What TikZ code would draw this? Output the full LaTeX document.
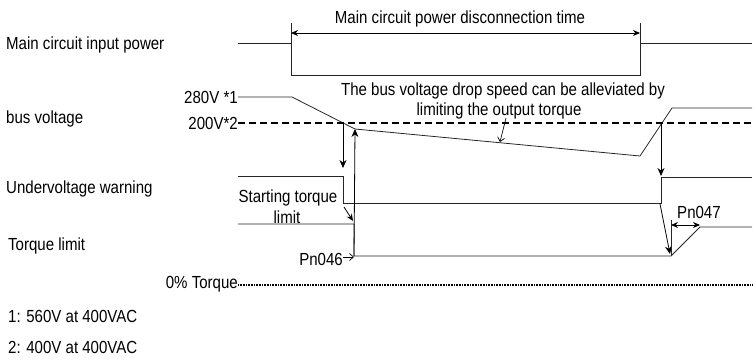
\documentclass[tikz,border=0pt]{standalone}
\usepackage{fontspec}
\setmainfont{Liberation Sans}[FakeStretch=0.86]
\usetikzlibrary{arrows.meta}

\begin{document}
\begin{tikzpicture}[
    x=1pt,
    y=-1pt,
    signal/.style={draw=black!85, line width=0.8pt},
    threshold/.style={draw=black, line width=1.6pt, dash pattern=on 7pt off 4pt},
    zero level/.style={draw=black, line width=1.8pt, dash pattern=on 1pt off 0.6pt},
    event arrow/.style={draw=black, line width=0.8pt, -{Stealth[length=8pt,width=7pt]}},
    span arrow/.style={draw=black, line width=0.8pt, {Stealth[length=7pt,width=6pt]}-{Stealth[length=7pt,width=6pt]}},
    pointer/.style={draw=black, line width=0.7pt, -{Straight Barb[length=4pt,width=7pt]}},
    row label/.style={font=\fontsize{17.5}{20}\selectfont, anchor=base west, inner sep=0pt},
    note label/.style={font=\fontsize{17.5}{20}\selectfont, anchor=base, inner sep=0pt}
]

\useasboundingbox (0,0) rectangle (754,362);

% Row labels on the left.
\node[row label] (lblPower) at (6,49) {Main circuit input power};
\node[row label] (lblBus) at (6,123) {bus voltage};
\node[row label] (lblUv) at (6,193) {Undervoltage warning};
\node[row label] (lblTorque) at (8,250) {Torque limit};
\node[row label, anchor=base east] (lblZero) at (238,288) {0\% Torque};
\node[row label] (foot1) at (8,322) {1: 560V at 400VAC};
\node[row label] (foot2) at (8,353) {2: 400V at 400VAC};

% Main circuit input power.
\coordinate (PwrIn) at (238,43);
\coordinate (OffTop) at (291,23);
\coordinate (OffBot) at (291,75);
\coordinate (OnTop) at (640,23);
\coordinate (OnBot) at (640,75);
\coordinate (PwrOut) at (752,43);
\draw[signal] (PwrIn) -- (OffTop |- PwrIn);
\draw[signal] (OffTop) -- (OffBot) -- (OnBot) -- (OnTop);
\draw[signal] (OnTop |- PwrOut) -- (PwrOut);
\draw[span arrow] (291,33) -- (640,33);
\node[note label] (tOff) at (460,23) {Main circuit power disconnection time};

% Bus voltage, with the 200V detection level.
\node[row label, anchor=base east] (v280) at (238,103) {280V *1};
\node[row label, anchor=base east] (v200) at (238,129) {200V*2};
\coordinate (BusDrop) at (292,97);
\coordinate (BusLim) at (355,129);
\coordinate (BusLow) at (640,156);
\coordinate (BusBack) at (672,108);
\draw[signal] (v280.base east) ++(0,-6) -- (BusDrop) -- (BusLim) -- (BusLow)
  -- (BusBack) -- (752,108);
\draw[threshold] (v200.base east) ++(0,-6) -- (752,123);
\node[note label] (noteSlow1) at (503,95) {The bus voltage drop speed can be alleviated by};
\node[note label] (noteSlow2) at (499,115) {limiting the output torque};
\draw[pointer] (506,118) -- (500,142);

% Undervoltage warning.
\draw[signal] (238,176) -- (343,176) -- (343,203) -- (661,203) -- (661,177) -- (752,177);
\draw[event arrow] (343,123) -- (343,168);
\draw[event arrow] (661,123) -- (661,176);

% Torque limit.
\coordinate (TqLow) at (671,256);
\coordinate (TqBack) at (700,227);
\draw[signal] (238,224) -- (354,224) -- (354,256) -- (TqLow) -- (TqBack) -- (752,227);
\draw[event arrow] (354,256) -- (BusLim);
\node[note label] (startLim1) at (288,202) {Starting torque};
\node[note label] (startLim2) at (287,223) {limit};
\draw[event arrow, -{Stealth[length=7pt,width=6pt]}] (344,207) -- (353,221);
\node[note label, anchor=base east] (pn46) at (343,265) {Pn046};
\draw[pointer] (pn46.base east) ++(0,-8) -- (354,257);
\draw[event arrow] (660,204) -- (670,254);
\draw[signal] (TqLow) -- (671,220);
\draw[span arrow] (671,225) -- (700,225);
\node[note label, anchor=base west] (pn47) at (677,218) {Pn047};

% 0% torque reference.
\draw[zero level] (lblZero.base east) ++(0,-3) -- (752,285);

\end{tikzpicture}
\end{document}
